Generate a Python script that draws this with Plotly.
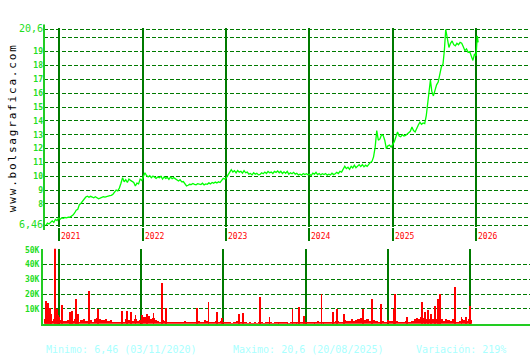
import plotly.graph_objects as go
import pandas as pd

# ---------------- data ----------------
price_dates = [
    "2020-11-03", "2020-11-10", "2020-11-17", "2020-11-24", "2020-12-01", "2020-12-08", "2020-12-15", "2020-12-22",
    "2020-12-29", "2021-01-05", "2021-01-12", "2021-01-19", "2021-01-26", "2021-02-02", "2021-02-09", "2021-02-16",
    "2021-02-23", "2021-03-02", "2021-03-09", "2021-03-16", "2021-03-23", "2021-03-30", "2021-04-06", "2021-04-13",
    "2021-04-20", "2021-04-27", "2021-05-04", "2021-05-11", "2021-05-18", "2021-05-25", "2021-06-01", "2021-06-08",
    "2021-06-15", "2021-06-22", "2021-06-29", "2021-07-06", "2021-07-13", "2021-07-20", "2021-07-27", "2021-08-03",
    "2021-08-10", "2021-08-17", "2021-08-24", "2021-08-31", "2021-09-07", "2021-09-14", "2021-09-21", "2021-09-28",
    "2021-10-05", "2021-10-12", "2021-10-19", "2021-10-26", "2021-11-02", "2021-11-09", "2021-11-16", "2021-11-23",
    "2021-11-30", "2021-12-07", "2021-12-14", "2021-12-21", "2021-12-28", "2022-01-04", "2022-01-11", "2022-01-18",
    "2022-01-25", "2022-02-01", "2022-02-08", "2022-02-15", "2022-02-22", "2022-03-01", "2022-03-08", "2022-03-15",
    "2022-03-22", "2022-03-29", "2022-04-05", "2022-04-12", "2022-04-19", "2022-04-26", "2022-05-03", "2022-05-10",
    "2022-05-17", "2022-05-24", "2022-05-31", "2022-06-07", "2022-06-14", "2022-06-21", "2022-06-28", "2022-07-05",
    "2022-07-12", "2022-07-19", "2022-07-26", "2022-08-02", "2022-08-09", "2022-08-16", "2022-08-23", "2022-08-30",
    "2022-09-06", "2022-09-13", "2022-09-20", "2022-09-27", "2022-10-04", "2022-10-11", "2022-10-18", "2022-10-25",
    "2022-11-01", "2022-11-08", "2022-11-15", "2022-11-22", "2022-11-29", "2022-12-06", "2022-12-13", "2022-12-20",
    "2022-12-27", "2023-01-03", "2023-01-10", "2023-01-17", "2023-01-24", "2023-01-31", "2023-02-07", "2023-02-14",
    "2023-02-21", "2023-02-28", "2023-03-07", "2023-03-14", "2023-03-21", "2023-03-28", "2023-04-04", "2023-04-11",
    "2023-04-18", "2023-04-25", "2023-05-02", "2023-05-09", "2023-05-16", "2023-05-23", "2023-05-30", "2023-06-06",
    "2023-06-13", "2023-06-20", "2023-06-27", "2023-07-04", "2023-07-11", "2023-07-18", "2023-07-25", "2023-08-01",
    "2023-08-08", "2023-08-15", "2023-08-22", "2023-08-29", "2023-09-05", "2023-09-12", "2023-09-19", "2023-09-26",
    "2023-10-03", "2023-10-10", "2023-10-17", "2023-10-24", "2023-10-31", "2023-11-07", "2023-11-14", "2023-11-21",
    "2023-11-28", "2023-12-05", "2023-12-12", "2023-12-19", "2023-12-26", "2024-01-02", "2024-01-09", "2024-01-16",
    "2024-01-23", "2024-01-30", "2024-02-06", "2024-02-13", "2024-02-20", "2024-02-27", "2024-03-05", "2024-03-12",
    "2024-03-19", "2024-03-26", "2024-04-02", "2024-04-09", "2024-04-16", "2024-04-23", "2024-04-30", "2024-05-07",
    "2024-05-14", "2024-05-21", "2024-05-28", "2024-06-04", "2024-06-11", "2024-06-18", "2024-06-25", "2024-07-02",
    "2024-07-09", "2024-07-16", "2024-07-23", "2024-07-30", "2024-08-06", "2024-08-13", "2024-08-20", "2024-08-27",
    "2024-09-03", "2024-09-10", "2024-09-17", "2024-09-24", "2024-10-01", "2024-10-08", "2024-10-15", "2024-10-22",
    "2024-10-29", "2024-11-05", "2024-11-12", "2024-11-19", "2024-11-26", "2024-12-03", "2024-12-10", "2024-12-17",
    "2024-12-24", "2024-12-31", "2025-01-07", "2025-01-14", "2025-01-21", "2025-01-28", "2025-02-04", "2025-02-11",
    "2025-02-18", "2025-02-25", "2025-03-04", "2025-03-11", "2025-03-18", "2025-03-25", "2025-04-01", "2025-04-08",
    "2025-04-15", "2025-04-22", "2025-04-29", "2025-05-06", "2025-05-13", "2025-05-20", "2025-05-27", "2025-06-03",
    "2025-06-10", "2025-06-14", "2025-06-20", "2025-06-27", "2025-07-04", "2025-07-11", "2025-07-18", "2025-07-25",
    "2025-08-01", "2025-08-08", "2025-08-14", "2025-08-20", "2025-08-27", "2025-09-03", "2025-09-10", "2025-09-17",
    "2025-09-24", "2025-10-01", "2025-10-08", "2025-10-15", "2025-10-22", "2025-10-29", "2025-11-05", "2025-11-12",
    "2025-11-19", "2025-11-26", "2025-12-03", "2025-12-10", "2025-12-17", "2025-12-24", "2025-12-31", "2026-01-05",
    "2026-01-09",
]
price_values = [
    6.46, 6.62, 6.55, 6.70, 6.78, 6.66, 6.88, 6.80,
    6.98, 6.90, 7.00, 6.96, 7.02, 7.00, 7.05, 7.04,
    7.12, 7.20, 7.35, 7.55, 7.62, 7.95, 8.05, 8.20,
    8.35, 8.50, 8.56, 8.48, 8.55, 8.50, 8.44, 8.52,
    8.45, 8.38, 8.42, 8.50, 8.52, 8.50, 8.55, 8.55,
    8.60, 8.62, 8.70, 8.85, 9.00, 8.95, 9.15, 9.50,
    9.90, 9.60, 9.75, 9.55, 9.80, 9.70, 9.65, 9.55,
    9.30, 9.50, 9.45, 9.80, 9.70, 10.00, 10.25, 10.05,
    9.95, 10.05, 9.90, 10.02, 9.95, 9.85, 9.95, 9.90,
    10.00, 9.80, 9.95, 9.85, 9.92, 9.78, 9.95, 9.82,
    9.90, 9.80, 9.72, 9.66, 9.75, 9.60, 9.62, 9.45,
    9.30, 9.35, 9.42, 9.40, 9.48, 9.42, 9.38, 9.46,
    9.42, 9.40, 9.50, 9.38, 9.45, 9.42, 9.52, 9.45,
    9.55, 9.50, 9.58, 9.52, 9.60, 9.55, 9.70, 9.85,
    9.80, 9.90, 10.10, 10.30, 10.48, 10.30, 10.40, 10.25,
    10.42, 10.30, 10.36, 10.22, 10.40, 10.25, 10.30, 10.15,
    10.20, 10.10, 10.25, 10.15, 10.22, 10.10, 10.13, 10.25,
    10.18, 10.30, 10.20, 10.35, 10.25, 10.30, 10.20, 10.35,
    10.28, 10.38, 10.25, 10.36, 10.20, 10.32, 10.22, 10.35,
    10.15, 10.25, 10.18, 10.28, 10.15, 10.22, 10.10, 10.15,
    10.08, 10.20, 10.12, 10.18, 10.10, 10.15, 10.05, 10.22,
    10.15, 10.28, 10.12, 10.20, 10.10, 10.18, 10.12, 10.20,
    10.08, 10.15, 10.10, 10.22, 10.12, 10.18, 10.28, 10.20,
    10.35, 10.30, 10.50, 10.72, 10.55, 10.65, 10.50, 10.72,
    10.60, 10.80, 10.62, 10.75, 10.84, 10.70, 10.85, 10.68,
    10.80, 10.72, 10.90, 11.00, 11.07, 11.40, 12.10, 13.30,
    12.60, 12.70, 13.00, 12.95, 12.60, 12.00, 12.20, 12.25,
    12.10, 12.30, 12.50, 12.85, 13.20, 12.90, 12.85, 13.00,
    12.90, 12.95, 13.05, 13.10, 13.25, 13.55, 13.30, 13.20,
    13.50, 13.70, 13.90, 13.75, 13.85, 13.80, 14.40, 15.30,
    16.20, 16.95, 16.13, 15.80, 16.20, 16.60, 16.80, 17.40,
    17.90, 18.10, 19.07, 20.60, 19.90, 19.30, 19.60, 19.77,
    19.50, 19.42, 19.60, 19.50, 19.66, 19.60, 19.35, 19.07,
    19.20, 18.95, 19.00, 18.60, 18.36, 18.83, 18.70, 20.13,
    19.66,
]

# volume (thousands of shares), one block every 10 days from 2020-11-03
vol_start = "2020-11-03"
vol_step_days = 10
vol_base_k = [
    3.0, 2.5, 4.0, 2.0, 3.5, 2.8, 5.0,
    2.5, 2.0, 1.8, 2.6, 1.5, 2.2, 3.0, 2.0, 1.6, 2.8, 3.5, 2.0,
    1.8, 2.5, 1.2, 3.0, 3.8, 3.2, 2.6, 2.8, 3.0, 2.2, 2.5, 1.5,
    1.0, 0.8, 1.2, 0.9, 1.5, 3.5, 2.5, 4.0, 2.0, 3.0, 1.8, 2.5,
    3.5, 5.0, 4.5, 5.5, 3.0, 4.0, 2.5, 1.8, 1.2, 2.5, 2.0, 1.0,
    1.2, 1.5, 0.8, 1.0, 1.5, 0.9, 1.2, 1.8, 1.0, 0.8, 1.2, 1.5,
    1.0, 2.0, 1.5, 1.2, 2.5, 1.8, 1.0, 1.5, 1.2, 2.0, 1.0, 1.8,
    0.8, 1.0, 1.5, 0.8, 0.6, 1.0, 2.0, 2.5, 1.2, 0.8, 1.0, 0.6,
    0.8, 0.5, 1.0, 0.6, 1.2, 0.8, 0.5, 0.9, 0.7, 1.0, 0.6, 0.8,
    1.0, 0.7, 0.9, 1.2, 0.8, 0.6, 1.0, 1.5, 0.8, 1.0, 1.2, 0.9,
    1.0, 0.8, 1.2, 1.5, 0.9, 1.0, 1.8, 1.2, 0.8, 1.0, 1.5, 1.2,
    1.5, 1.0, 1.8, 2.0, 1.2, 1.5, 2.5, 1.8, 2.2, 3.0, 2.0, 2.5,
    3.5, 4.0, 3.0, 2.5, 3.5, 2.0, 1.5, 2.5, 2.0, 1.2, 1.5, 2.0,
    1.5, 2.5, 1.8, 2.0, 3.0, 2.2, 1.0, 1.5, 1.2, 2.0, 1.0, 1.5,
    2.0, 3.0, 4.0, 3.5, 5.0, 4.0, 3.5, 4.5, 3.0, 3.5, 2.5, 3.0,
    2.5, 3.0, 2.0, 3.5, 2.5, 2.0, 3.0, 2.5, 1.5, 2.0, 3.0, 2.5, 2.0, 3.0, 2.5,
]
spike_dates = [
    "2020-11-04", "2020-11-13", "2020-11-22", "2020-11-26", "2020-12-14", "2020-12-23", "2020-12-28",
    "2021-01-13", "2021-02-17", "2021-02-26", "2021-03-16", "2021-03-25", "2021-05-16", "2021-06-24",
    "2021-10-08", "2021-10-30", "2021-11-17", "2021-12-07", "2022-01-06", "2022-01-27", "2022-02-25",
    "2022-04-05", "2022-04-22", "2022-09-06", "2022-10-27", "2022-12-04", "2022-12-27", "2023-03-11",
    "2023-03-29", "2023-06-12", "2023-07-25", "2023-11-04", "2023-12-04", "2023-12-27", "2024-03-12",
    "2024-05-04", "2024-05-19", "2024-06-18", "2024-09-12", "2024-10-23", "2024-12-02", "2025-01-26",
    "2025-02-01", "2025-03-26", "2025-06-03", "2025-06-15", "2025-06-26", "2025-07-10", "2025-07-30",
    "2025-08-13", "2025-08-21", "2025-10-27", "2025-11-24", "2025-12-14", "2026-01-01",
]
spike_k = [
    15.4, 13.8, 10.5, 6.6, 52.0, 10.0, 5.7,
    12.7, 7.9, 8.8, 17.0, 6.6, 22.0, 10.0,
    8.8, 8.8, 8.3, 6.2, 5.9, 6.6, 7.3,
    27.9, 10.5, 10.5, 14.5, 7.9, 4.0, 7.0,
    7.3, 18.0, 4.8, 10.0, 11.2, 5.5, 20.2,
    8.0, 10.3, 7.0, 10.3, 17.0, 13.6, 10.3,
    20.4, 5.0, 14.7, 8.0, 9.5, 7.0, 11.9,
    16.5, 20.2, 25.0, 5.0, 5.0, 11.9,
]

year_ticks = ["2021-01-01", "2022-01-01", "2023-01-01", "2024-01-01", "2025-01-01", "2026-01-01"]
year_labels = ["2021", "2022", "2023", "2024", "2025", "2026"]

price_ticks = [6.46, 7, 8, 9, 10, 11, 12, 13, 14, 15, 16, 17, 18, 19, 20, 20.6]
price_tick_labels = ["6,46", "", "8", "9", "10", "11", "12", "13", "14", "15", "16", "17", "18", "19", "", "20,6"]
vol_ticks = [10, 20, 30, 40, 50]
vol_tick_labels = ["10K", "20K", "30K", "40K", "50K"]

footer_texts = ["Minimo: 6,46 (03/11/2020)", "Maximo: 20,6 (20/08/2025)", "Variación: 219%"]
watermark = "www.bolsagrafica.com"

# ---------------- styling helpers ----------------
W, H = 530, 360
def px_x(p):
    return p / W
def px_y(p):
    return 1 - p / H

MONO = "DejaVu Sans Mono"
GRID = "#007a00"
AXIS = "#22cc22"
LABEL = "#22dd22"

# price axis: 14.166 px per unit, 20.6 at y=25px and 6.46 at y=225.3px; pad range so edge grid lines show
P_PAD = 0.1
P_PX = 14.166
V_PAD = 0.6
V_PX = 1.506

def fmt_price_label(t):
    if t in ("6,46", "20,6"):
        return '<span style="font-size:10px">%s</span>' % t
    return "<b>%s</b>" % t if t else ""

vol_dates = pd.date_range(vol_start, periods=len(vol_base_k), freq="%dD" % vol_step_days)

fig = go.Figure()
fig.add_trace(go.Scatter(x=price_dates, y=price_values, mode="lines",
                         line=dict(color="#00ff00", width=1.3), xaxis="x", yaxis="y",
                         showlegend=False, hoverinfo="skip"))
fig.add_trace(go.Bar(x=vol_dates, y=vol_base_k, marker=dict(color="#ff0000", line=dict(width=0)),
                     width=[vol_step_days * 86400000 * 0.8] * len(vol_base_k),
                     xaxis="x2", yaxis="y2", showlegend=False, hoverinfo="skip"))
fig.add_trace(go.Bar(x=spike_dates, y=spike_k, marker=dict(color="#ff0000", line=dict(width=0)),
                     width=[4 * 86400000] * len(spike_k),
                     xaxis="x2", yaxis="y2", showlegend=False, hoverinfo="skip"))

shapes = [
    dict(type="line", xref="paper", yref="paper", x0=px_x(44), x1=px_x(44), y0=px_y(230), y1=px_y(20),
         line=dict(color=AXIS, width=2)),
]

annotations = []
for yt, yl in zip(year_ticks, year_labels):
    annotations.append(dict(x=yt, xref="x", y=px_y(236.5), yref="paper", text=yl, showarrow=False,
                            xanchor="left", yanchor="middle", xshift=0,
                            font=dict(family=MONO, size=8, color="#ff0000")))
wm = '<span style="font-size:3px"> </span>'.join(list(watermark))
annotations.append(dict(x=px_x(12), y=px_y(127), xref="paper", yref="paper", text=wm, textangle=-90,
                        showarrow=False, xanchor="center", yanchor="middle",
                        font=dict(family=MONO, size=11, color="#000000")))
for txt, xp in zip(footer_texts, [44, 231, 414]):
    annotations.append(dict(x=px_x(xp), y=px_y(352), xref="paper", yref="paper", text=txt,
                            showarrow=False, xanchor="left", yanchor="middle",
                            font=dict(family=MONO, size=10, color="#aaffff")))

fig.update_layout(
    width=W, height=H, margin=dict(l=0, r=0, t=0, b=0),
    paper_bgcolor="white", plot_bgcolor="white", barmode="overlay", bargap=0,
    showlegend=False, hovermode=False,
    xaxis=dict(domain=[px_x(44), 1], range=["2020-10-26", "2026-08-24"], type="date",
               tickvals=year_ticks, showticklabels=False, showgrid=True, gridcolor=GRID, gridwidth=2,
               ticks="outside", ticklen=15 - P_PAD * P_PX, tickwidth=2, tickcolor=GRID, showline=False,
               zeroline=False, anchor="y"),
    yaxis=dict(domain=[px_y(225.3 + P_PAD * P_PX), px_y(25 - P_PAD * P_PX)],
               range=[6.46 - P_PAD, 20.6 + P_PAD], tickvals=price_ticks,
               ticktext=[fmt_price_label(t) for t in price_tick_labels],
               tickfont=dict(family=MONO, size=8, color=LABEL), showgrid=True, gridcolor=GRID,
               gridwidth=1, griddash="4px,2px", zeroline=False, showline=False, ticks="", anchor="x"),
    xaxis2=dict(domain=[px_x(43), 1], range=["2020-10-22", "2026-09-24"], type="date",
                tickvals=year_ticks, showticklabels=False, showgrid=True, gridcolor=GRID, gridwidth=2,
                ticks="", showline=True, linecolor=AXIS, linewidth=2, zeroline=False, anchor="y2"),
    yaxis2=dict(domain=[px_y(326), px_y(250.3 - V_PAD * V_PX)], range=[0, 50 + V_PAD], tickvals=vol_ticks,
                ticktext=["<b>%s</b>" % t for t in vol_tick_labels],
                tickfont=dict(family=MONO, size=8, color=LABEL), showgrid=True, gridcolor=GRID,
                gridwidth=1, griddash="4px,2px", zeroline=False, showline=True, linecolor=AXIS,
                linewidth=2, ticks="", anchor="x2"),
    shapes=shapes, annotations=annotations,
)

fig.write_html("out.html")
